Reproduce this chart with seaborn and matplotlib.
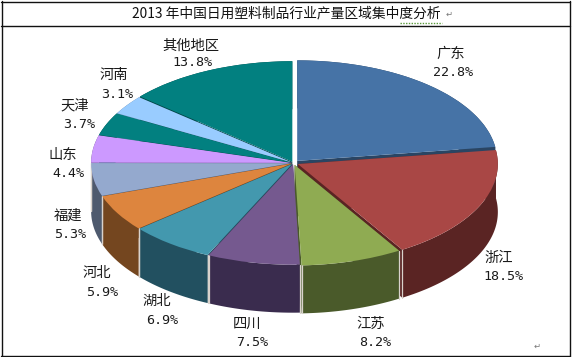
import numpy as np
import matplotlib
matplotlib.use("Agg")
import matplotlib.pyplot as plt
import seaborn as sns
from matplotlib.lines import Line2D
from matplotlib.patches import Polygon

sns.set_style("white")
CJK = ["Noto Sans CJK SC", "DejaVu Sans"]
plt.rcParams["font.family"] = CJK

# ---- data ----
title = "2013 年中国日用塑料制品行业产量区域集中度分析"
regions = ["广东", "浙江", "江苏", "四川", "湖北", "河北", "福建", "山东", "天津", "河南", "其他地区"]
shares = [22.8, 18.5, 8.2, 7.5, 6.9, 5.9, 5.3, 4.4, 3.7, 3.1, 13.8]

# ---- styles ----
top_colors = ["#4673A6", "#A94745", "#8FAB52", "#75598F", "#4398AE", "#DD853E",
              "#94A9CE", "#CC99FF", "#028080", "#99CCFF", "#028080"]
wall_colors = ["#2A4563", "#5A2423", "#4A5A2A", "#3A2C4E", "#225060", "#74461F",
               "#4E5A6E", "#6B5188", "#014545", "#5A7A99", "#014545"]
explode = [0.028, 0.024, 0.02, 0.012, 0.012, 0.012, 0.012, 0.012, 0.012, 0.012, 0.014]
label_px = [(451, 54), (499, 258), (371, 324), (247, 324), (157, 301), (97, 273),
            (68, 216), (63, 155), (75, 105), (114, 75), (191, 46)]
value_px = [(453, 73), (503, 277), (375, 343), (252, 343), (162, 320), (102, 292),
            (70, 234), (68, 173), (79, 124), (117, 94), (192, 63)]

W, H = 572, 357
CX, CY, RX, RY, DEPTH = 293.5, 163.0, 200.0, 100.5, 48.0

fig = plt.figure(figsize=(W / 100, H / 100), dpi=100, facecolor="white")
ax = fig.add_axes([0, 0, 1, 1])
ax.axis("off")

wedges, _ = ax.pie(shares, colors=top_colors, explode=explode, startangle=90,
                   counterclock=False, radius=1.0,
                   wedgeprops=dict(linewidth=0.5, edgecolor="none", zorder=5))
ax.set_aspect("auto")
ax.set_xlim(-CX / RX, (W - CX) / RX)
ax.set_ylim((CY - H) / RY, CY / RY)
depth = DEPTH / RY

# extruded walls, derived from the wedges the pie produced; back to front
order = sorted(range(len(wedges)), key=lambda i: wedges[i].center[1], reverse=True)
for i in order:
    w = wedges[i]
    cx, cy = w.center
    t = np.radians(np.linspace(w.theta1, w.theta2, 120))
    ex, ey = cx + w.r * np.cos(t), cy + w.r * np.sin(t)
    # cut faces, only seen inside the gaps between the slices
    for k in (0, -1):
        ax.add_patch(Polygon([(cx, cy), (ex[k], ey[k]), (ex[k], ey[k] - depth), (cx, cy - depth)],
                             closed=True, fc=wall_colors[i], ec="none", zorder=1))
    rim = np.column_stack([np.r_[ex, ex[::-1]], np.r_[ey, ey[::-1] - depth]])
    ax.add_patch(Polygon(rim, closed=True, fc=wall_colors[i], ec="none", zorder=2))
    # pale seam at the visible slice corners
    for k in (0, -1):
        if np.sin(t[k]) < 0.05:
            ax.plot([ex[k]] * 2, [ey[k], ey[k] - depth], color="#D9D2CC", lw=0.9, zorder=3)

# labels
for name, val, lp, vp in zip(regions, shares, label_px, value_px):
    ax.text(lp[0] / W, 1 - lp[1] / H, name, transform=ax.transAxes, fontsize=10.3,
            ha="center", va="center", color="#1a1a1a", zorder=10)
    ax.text(vp[0] / W, 1 - vp[1] / H, f"{val:.1f}%", transform=ax.transAxes, fontsize=9.6,
            family="DejaVu Sans Mono", ha="center", va="center", color="#1a1a1a", zorder=10)

# table-like frame and title
ax.text(286 / W, 1 - 13.5 / H, title, transform=ax.transAxes, fontsize=9.9,
        ha="center", va="center", color="#111111", zorder=10)
ax.text(449 / W, 1 - 14 / H, "\u21b5", transform=ax.transAxes, fontsize=6,
        family="DejaVu Sans", ha="center", va="center", color="#777777", zorder=10)
ax.text(537 / W, 1 - 346 / H, "\u21b5", transform=ax.transAxes, fontsize=6,
        family="DejaVu Sans", ha="center", va="center", color="#777777", zorder=10)

def px_line(x0, y0, x1, y1, **kw):
    fig.add_artist(Line2D([x0 / W, x1 / W], [1 - y0 / H, 1 - y1 / H],
                          transform=fig.transFigure, **kw))

for seg in [(1, 1.5, 569.5, 1.5), (1, 25.5, 569.5, 25.5), (1, 355.5, 569.5, 355.5),
            (1.5, 1, 1.5, 356), (569.5, 1, 569.5, 356)]:
    px_line(*seg, color="#111111", lw=1.0)
px_line(400, 23, 442, 23, color="#5A9A3A", lw=1.0, ls=(0, (1, 1)))

fig.savefig("out.png", dpi=100, facecolor="white")
